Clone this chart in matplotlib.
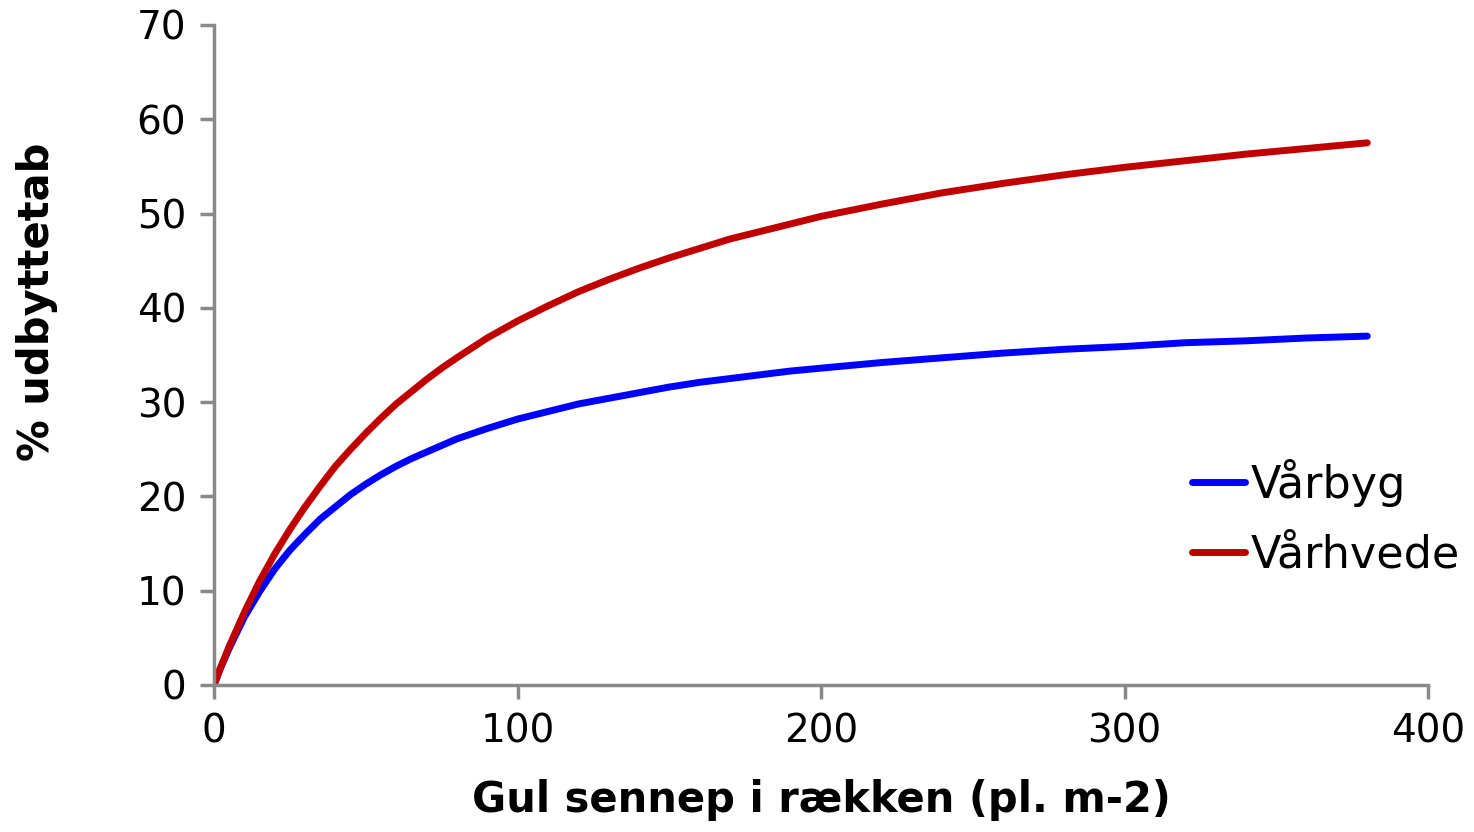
import matplotlib
matplotlib.use("Agg")
import matplotlib.pyplot as plt

# Data ----------------------------------------------------------------------------------
density = [0, 2, 5, 10, 15, 20, 25, 30, 35, 40, 45, 50, 55, 60, 65, 70, 75, 80, 90, 100,
           110, 120, 130, 140, 150, 160, 170, 180, 190, 200, 220, 240, 260, 280, 300, 320,
           340, 360, 380]
varbyg = [0, 1.7, 3.9, 7.2, 9.9, 12.3, 14.3, 16.0, 17.6, 18.9, 20.2, 21.3, 22.3, 23.2,
          24.0, 24.7, 25.4, 26.1, 27.2, 28.2, 29.0, 29.8, 30.4, 31.0, 31.6, 32.1, 32.5,
          32.9, 33.3, 33.6, 34.2, 34.7, 35.2, 35.6, 35.9, 36.3, 36.5, 36.8, 37.0]
varhvede = [0, 1.7, 4.1, 7.7, 11.0, 13.9, 16.5, 18.9, 21.1, 23.2, 25.0, 26.7, 28.3, 29.8,
            31.1, 32.4, 33.6, 34.7, 36.8, 38.6, 40.2, 41.7, 43.0, 44.2, 45.3, 46.3, 47.3,
            48.1, 48.9, 49.7, 51.0, 52.2, 53.2, 54.1, 54.9, 55.6, 56.3, 56.9, 57.5]

x_ticks = [0, 100, 200, 300, 400]
y_ticks = [0, 10, 20, 30, 40, 50, 60, 70]

# Figure ---------------------------------------------------------------------------------
plt.rcParams['font.family'] = ['DejaVu Sans']
fig = plt.figure(figsize=(14.74, 8.32), dpi=100)
ax = fig.add_axes([0.1452, 0.1767, 0.8236, 0.7933])

ax.plot(density, varbyg, color='#0000FF', lw=5, solid_capstyle='round',
        solid_joinstyle='round', label='Vårbyg')
ax.plot(density, varhvede, color='#C00000', lw=5, solid_capstyle='round',
        solid_joinstyle='round', label='Vårhvede')

ax.set_xlim(0, 400)
ax.set_ylim(0, 70)
ax.set_xticks(x_ticks)
ax.set_yticks(y_ticks)

for side in ['top', 'right']:
    ax.spines[side].set_visible(False)
for side in ['left', 'bottom']:
    ax.spines[side].set_color('#898989')
    ax.spines[side].set_linewidth(2.5)
ax.tick_params(axis='both', colors='#898989', width=2.5, length=10, labelsize=28,
               labelcolor='black', pad=10)

# axis titles placed in figure pixels to match the reference
fig.text(0.557, 0.038, 'Gul sennep i rækken (pl. m-2)', fontsize=30, fontweight='bold',
         ha='center', va='center')
fig.text(0.025, 0.637, '% udbyttetab', fontsize=30, fontweight='bold',
         ha='center', va='center', rotation=90)

ax.legend(loc='center left', bbox_to_anchor=(0.8056, 0.254), frameon=False, fontsize=32,
          handlelength=1.2, handletextpad=0.12, labelspacing=0.6, borderpad=0,
          borderaxespad=0)

fig.savefig('out.png', dpi=100)
